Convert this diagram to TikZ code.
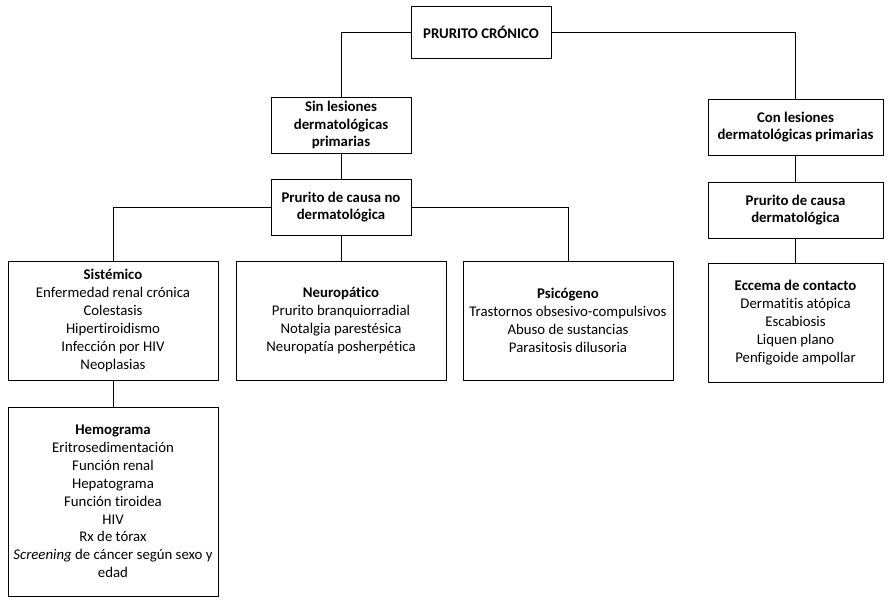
\documentclass[tikz,border=0pt]{standalone}
\usepackage{fontspec}
\setmainfont{Carlito}[Ligatures={NoCommon}]
\begin{document}
\begin{tikzpicture}[x=0.75pt,y=-0.75pt,
  box/.style={draw, line width=0.75pt, rectangle, inner sep=0pt, align=center,
    font=\fontsize{11.1}{13.4}\selectfont},
  conn/.style={line width=0.75pt}]
\useasboundingbox (0,0) rectangle (891,604);
\node[box, minimum width=140*0.75pt, minimum height=52*0.75pt] (root) at (481,32) {\textbf{PRURITO CRÓNICO}};
\node[box, minimum width=140*0.75pt, minimum height=56*0.75pt] (sin) at (341,125) {\textbf{Sin lesiones}\\\textbf{dermatológicas}\\\textbf{primarias}};
\node[box, minimum width=140*0.75pt, minimum height=56*0.75pt] (nodm) at (341,207) {\textbf{Prurito de causa no}\\\textbf{dermatológica}};
\node[box, minimum width=175*0.75pt, minimum height=56*0.75pt] (con) at (795.5,127) {\textbf{Con lesiones}\\\textbf{dermatológicas primarias}};
\node[box, minimum width=175*0.75pt, minimum height=56*0.75pt] (derm) at (795.5,210) {\textbf{Prurito de causa}\\\textbf{dermatológica}};
\node[box, minimum width=210*0.75pt, minimum height=119*0.75pt] (sis) at (113,320.5) {\textbf{Sistémico}\\Enfermedad renal crónica\\Colestasis\\Hipertiroidismo\\Infección por HIV\\Neoplasias};
\node[box, minimum width=210*0.75pt, minimum height=119*0.75pt] (neu) at (341,320.5) {\textbf{Neuropático}\\Prurito branquiorradial\\Notalgia parestésica\\Neuropatía posherpética};
\node[box, minimum width=210*0.75pt, minimum height=119*0.75pt] (psi) at (568,320.5) {\textbf{Psicógeno}\\Trastornos obsesivo-compulsivos\\Abuso de sustancias\\Parasitosis dilusoria};
\node[box, minimum width=175*0.75pt, minimum height=119*0.75pt] (ecc) at (795.5,322.5) {\textbf{Eccema de contacto}\\Dermatitis atópica\\Escabiosis\\Liquen plano\\Penfigoide ampollar};
\node[box, minimum width=210*0.75pt, minimum height=189*0.75pt] (hem) at (113,501.5) {\textbf{Hemograma}\\Eritrosedimentación\\Función renal\\Hepatograma\\Función tiroidea\\HIV\\Rx de tórax\\\textit{Screening} de cáncer según sexo y\\edad};
\draw[conn] (root.west) -| (sin.north);
\draw[conn] (root.east) -| (con.north);
\draw[conn] (sin) -- (nodm);
\draw[conn] (nodm.west) -| (sis.north);
\draw[conn] (nodm.east) -| (psi.north);
\draw[conn] (nodm) -- (neu);
\draw[conn] (con) -- (derm);
\draw[conn] (derm) -- (ecc);
\draw[conn] (sis) -- (hem);
\end{tikzpicture}
\end{document}
